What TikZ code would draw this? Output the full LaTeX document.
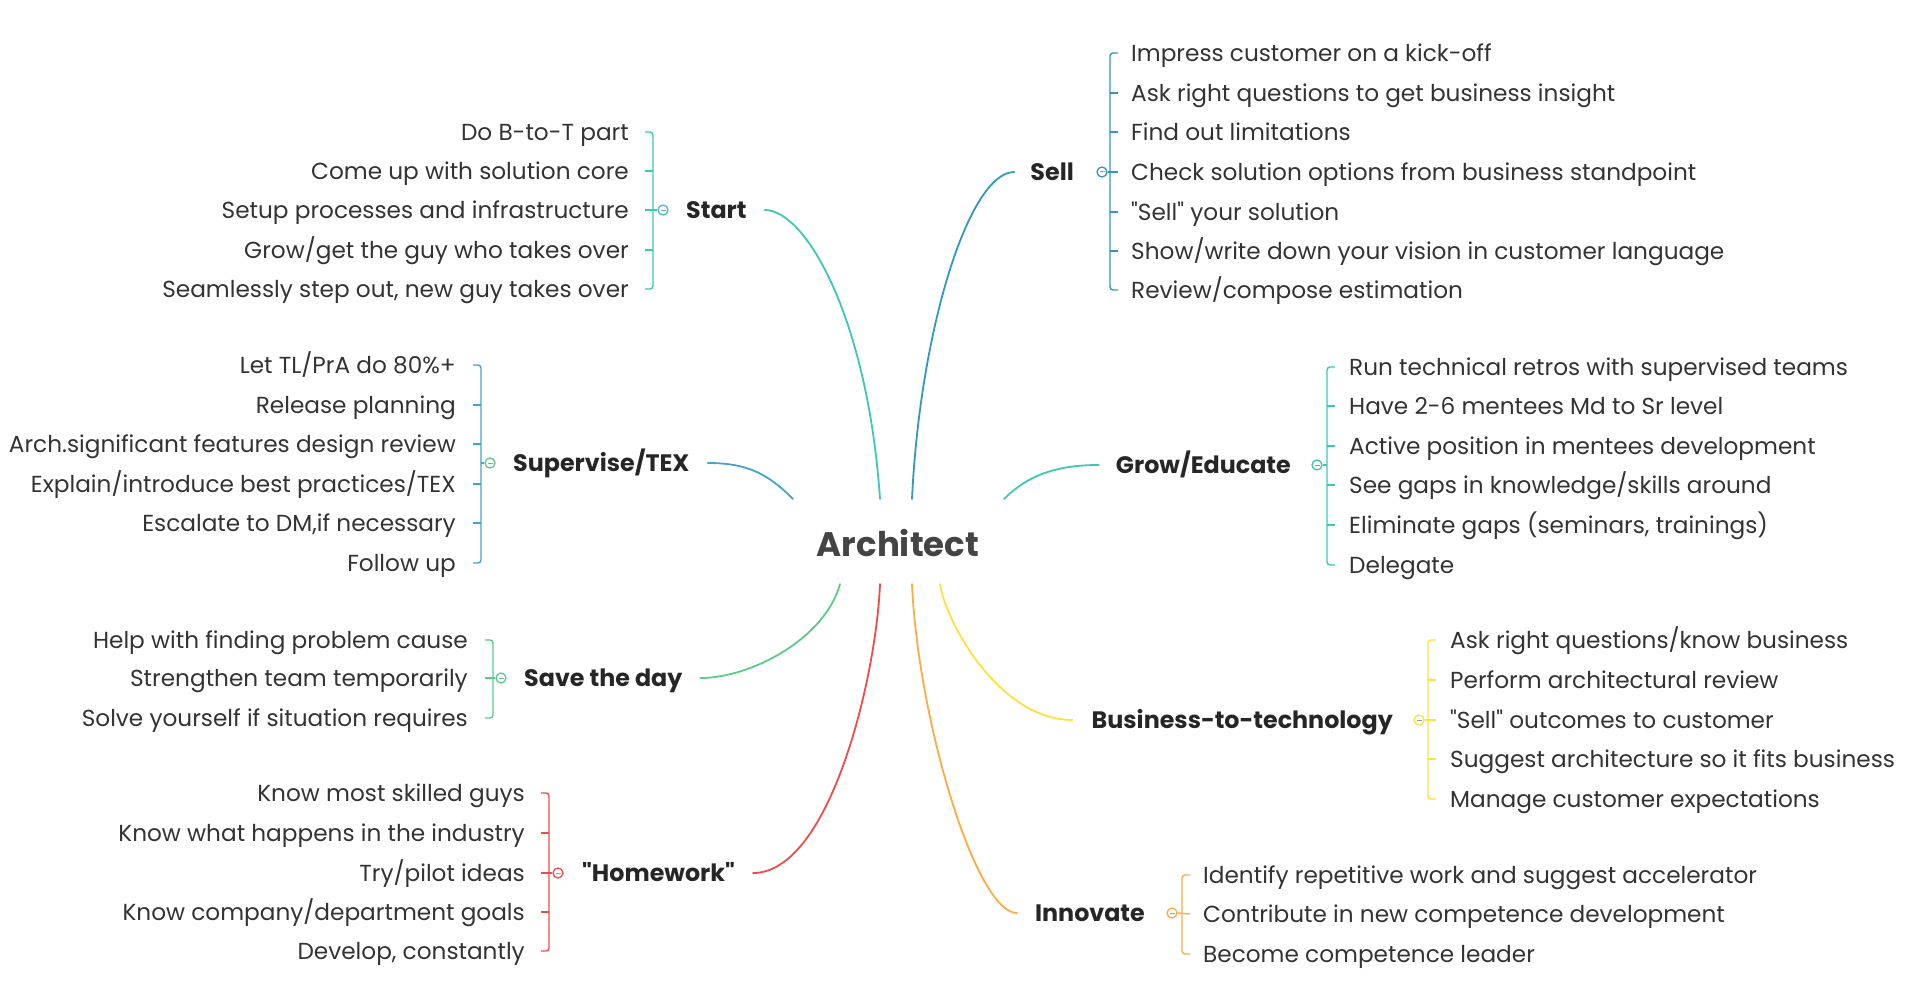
\documentclass[tikz,border=0pt]{standalone}
\usepackage{fontspec}
\setmainfont{Poppins}[Ligatures=TeXOff]
\definecolor{txt}{HTML}{333333}
\definecolor{ctr}{HTML}{444444}
\definecolor{cStart}{HTML}{3EC6B6}
\definecolor{cSell}{HTML}{3399BB}
\definecolor{cSup}{HTML}{45A5C5}
\definecolor{cGrow}{HTML}{3EC6B6}
\definecolor{cSave}{HTML}{5CCB8A}
\definecolor{cHome}{HTML}{F04B4B}
\definecolor{cInno}{HTML}{FFAA44}
\definecolor{cBtT}{HTML}{FFE040}
\definecolor{minusc}{HTML}{7FA6C0}
\newcommand{\dq}{\char"22\relax}
\tikzset{
  leaf/.style={font=\fontsize{23.2}{28}\selectfont, text=txt, inner sep=0pt, text height=16.3pt, text depth=0pt},
  leafL/.style={leaf, anchor=east},
  leafR/.style={leaf, anchor=west},
  branch/.style={font=\fontsize{23.8}{28}\selectfont\bfseries, text=black!85, inner sep=0pt, text height=17pt, text depth=0pt, anchor=west},
  conn/.style={line width=1.8pt, line cap=round},
  brk/.style={line width=1.4pt},
  knob/.style={circle, draw, fill=white, line width=1.3pt, minimum size=10pt, inner sep=0pt},
}
\newcommand{\knobminus}[1]{\draw[minusc, line width=1pt] ([xshift=-2.5pt]#1.center) -- ([xshift=2.5pt]#1.center);}
\begin{document}
\begin{tikzpicture}[x=1pt, y=-1pt]
\useasboundingbox (0,0) rectangle (1915,1006);

% centre
\node[font=\fontsize{34}{40}\selectfont\bfseries, text=ctr, inner sep=0pt] (arch) at (898,543) {Architect};
\coordinate (eSup) at (793,499);
\coordinate (eSt) at (880,499);
\coordinate (eSe) at (912,499);
\coordinate (eGr) at (1004,499);
\coordinate (eSa) at (840,584);
\coordinate (eHo) at (880,584);
\coordinate (eIn) at (912,584);
\coordinate (eBt) at (940,584);

% ---------- Start ----------
\node[leafL] (st1) at (629,132) {Do B-to-T part};
\node[leafL] (st2) at (629,171) {Come up with solution core};
\node[leafL] (st3) at (629,210) {Setup processes and infrastructure};
\node[leafL] (st4) at (629,250) {Grow/get the guy who takes over};
\node[leafL] (st5) at (629,289) {Seamlessly step out, new guy takes over};
\node[knob, draw=cStart] (stk) at (663,210) {};
\knobminus{stk}
\node[branch] (start) at (686,210) {Start};
\draw[brk, cStart, rounded corners=3pt] ([xshift=16pt]st1.east) -| ([xshift=24pt]st5.east) -- ([xshift=16pt]st5.east);
\foreach \n in {st2,st4} \draw[brk, cStart] ([xshift=16pt]\n.east) -- ++(8,0);
\draw[brk, cStart] ([xshift=16pt]st3.east) -- (stk.west);
\draw[conn, cStart] ([xshift=18pt]start.east) .. controls +(42,0) and +(-12,-178) .. (eSt);

% ---------- Supervise/TEX ----------
\node[leafL] (su1) at (456,365) {Let TL/PrA do 80\%+};
\node[leafL] (su2) at (456,405) {Release planning};
\node[leafL] (su3) at (456,444) {Arch.significant features design review};
\node[leafL] (su4) at (456,484) {Explain/introduce best practices/TEX};
\node[leafL] (su5) at (456,523) {Escalate to DM,if necessary};
\node[leafL] (su6) at (456,563) {Follow up};
\node[knob, draw=cSave] (suk) at (490,463) {};
\knobminus{suk}
\node[branch] (sup) at (513,463) {Supervise/TEX};
\draw[brk, cSup, rounded corners=3pt] ([xshift=17pt]su1.east) -| ([xshift=25pt]su6.east) -- ([xshift=17pt]su6.east);
\foreach \n in {su2,su3,su4,su5} \draw[brk, cSup] ([xshift=17pt]\n.east) -- ++(8,0);
\draw[brk, cSup] ([xshift=25pt]su3.east |- suk.west) -- (suk.west);
\draw[conn, cSup] ([xshift=18pt]sup.east) .. controls +(40,0) and +(-25,-25) .. (eSup);

% ---------- Save the day ----------
\node[leafL] (sa1) at (468,640) {Help with finding problem cause};
\node[leafL] (sa2) at (468,678) {Strengthen team temporarily};
\node[leafL] (sa3) at (468,718) {Solve yourself if situation requires};
\node[knob, draw=cSave] (sak) at (501,678) {};
\knobminus{sak}
\node[branch] (save) at (524,678) {Save the day};
\draw[brk, cSave, rounded corners=3pt] ([xshift=17pt]sa1.east) -| ([xshift=25pt]sa3.east) -- ([xshift=17pt]sa3.east);
\draw[brk, cSave] ([xshift=17pt]sa2.east) -- (sak.west);
\draw[conn, cSave] ([xshift=18pt]save.east) .. controls +(50,0) and +(-15,55) .. (eSa);

% ---------- Homework ----------
\node[leafL] (ho1) at (525,793) {Know most skilled guys};
\node[leafL] (ho2) at (525,833) {Know what happens in the industry};
\node[leafL] (ho3) at (525,873) {Try/pilot ideas};
\node[leafL] (ho4) at (525,912) {Know company/department goals};
\node[leafL] (ho5) at (525,951) {Develop, constantly};
\node[knob, draw=cHome] (hok) at (558,873) {};
\knobminus{hok}
\node[branch] (home) at (582,873) {\dq Homework\dq};
\draw[brk, cHome, rounded corners=3pt] ([xshift=16pt]ho1.east) -| ([xshift=24pt]ho5.east) -- ([xshift=16pt]ho5.east);
\foreach \n in {ho2,ho4} \draw[brk, cHome] ([xshift=16pt]\n.east) -- ++(8,0);
\draw[brk, cHome] ([xshift=16pt]ho3.east) -- (hok.west);
\draw[conn, cHome] ([xshift=18pt]home.east) .. controls +(76,0) and +(-4,96) .. (eHo);

% ---------- Sell ----------
\node[leafR] (se1) at (1131,53) {Impress customer on a kick-off};
\node[leafR] (se2) at (1131,93) {Ask right questions to get business insight};
\node[leafR] (se3) at (1131,132) {Find out limitations};
\node[leafR] (se4) at (1131,172) {Check solution options from business standpoint};
\node[leafR] (se5) at (1131,212) {\dq Sell\dq{} your solution};
\node[leafR] (se6) at (1131,251) {Show/write down your vision in customer language};
\node[leafR] (se7) at (1131,290) {Review/compose estimation};
\node[knob, draw=cSell] (sek) at (1102,172) {};
\knobminus{sek}
\node[branch, anchor=east] (sell) at (1074,172) {Sell};
\draw[brk, cSell, rounded corners=3pt] ([xshift=-13pt]se1.west) -| ([xshift=-21pt]se7.west) -- ([xshift=-13pt]se7.west);
\foreach \n in {se2,se3,se5,se6} \draw[brk, cSell] ([xshift=-13pt]\n.west) -- ++(-8,0);
\draw[brk, cSell] ([xshift=-13pt]se4.west) -- (sek.east);
\draw[conn, cSell] ([xshift=-16pt]sell.west) .. controls +(-45,0) and +(8,-170) .. (eSe);

% ---------- Grow/Educate ----------
\node[leafR] (gr1) at (1349,367) {Run technical retros with supervised teams};
\node[leafR] (gr2) at (1349,406) {Have 2-6 mentees Md to Sr level};
\node[leafR] (gr3) at (1349,446) {Active position in mentees development};
\node[leafR] (gr4) at (1349,485) {See gaps in knowledge/skills around};
\node[leafR] (gr5) at (1349,525) {Eliminate gaps (seminars, trainings)};
\node[leafR] (gr6) at (1349,565) {Delegate};
\node[knob, draw=cGrow] (grk) at (1317,465) {};
\knobminus{grk}
\node[branch, anchor=east] (grow) at (1291,465) {Grow/Educate};
\draw[brk, cGrow, rounded corners=3pt] ([xshift=-14pt]gr1.west) -| ([xshift=-22pt]gr6.west) -- ([xshift=-14pt]gr6.west);
\foreach \n in {gr2,gr3,gr4,gr5} \draw[brk, cGrow] ([xshift=-14pt]\n.west) -- ++(-8,0);
\draw[brk, cGrow] (grk.east) -- ([xshift=-22pt]gr3.west |- grk.east);
\draw[conn, cGrow] ([xshift=-17pt]grow.west) .. controls +(-40,0) and +(25,-25) .. (eGr);

% ---------- Business-to-technology ----------
\node[leafR] (bt1) at (1450,640) {Ask right questions/know business};
\node[leafR] (bt2) at (1450,680) {Perform architectural review};
\node[leafR] (bt3) at (1450,720) {\dq Sell\dq{} outcomes to customer};
\node[leafR] (bt4) at (1450,759) {Suggest architecture so it fits business};
\node[leafR] (bt5) at (1450,799) {Manage customer expectations};
\node[knob, draw=cBtT] (btk) at (1419,720) {};
\knobminus{btk}
\node[branch, anchor=east] (btt) at (1393,720) {Business-to-technology};
\draw[brk, cBtT, rounded corners=3pt] ([xshift=-14pt]bt1.west) -| ([xshift=-22pt]bt5.west) -- ([xshift=-14pt]bt5.west);
\foreach \n in {bt2,bt4} \draw[brk, cBtT] ([xshift=-14pt]\n.west) -- ++(-8,0);
\draw[brk, cBtT] ([xshift=-14pt]bt3.west) -- (btk.east);
\draw[conn, cBtT] ([xshift=-19pt]btt.west) .. controls +(-74,0) and +(5,36) .. (eBt);

% ---------- Innovate ----------
\node[leafR] (in1) at (1203,875) {Identify repetitive work and suggest accelerator};
\node[leafR] (in2) at (1203,914) {Contribute in new competence development};
\node[leafR] (in3) at (1203,954) {Become competence leader};
\node[knob, draw=cInno] (ink) at (1172,913) {};
\knobminus{ink}
\node[branch, anchor=east] (inno) at (1145,913) {Innovate};
\draw[brk, cInno, rounded corners=3pt] ([xshift=-13pt]in1.west) -| ([xshift=-21pt]in3.west) -- ([xshift=-13pt]in3.west);
\draw[brk, cInno] ([xshift=-13pt]in2.west) -- (ink.east);
\draw[conn, cInno] ([xshift=-18pt]inno.west) .. controls +(-41,0) and +(6,136) .. (eIn);
\end{tikzpicture}
\end{document}
